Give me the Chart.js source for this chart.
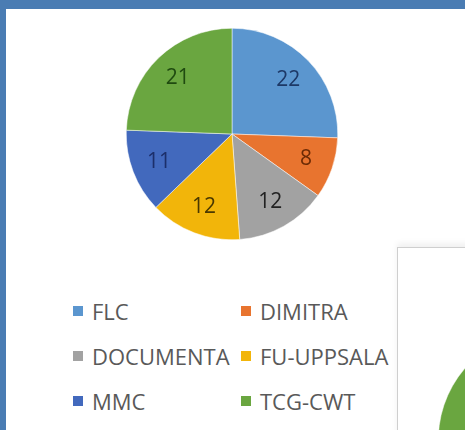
<!DOCTYPE html>
<html>
<head>
<meta charset="utf-8">
<script src="https://cdn.jsdelivr.net/npm/chart.js@4.4.1/dist/chart.umd.min.js"></script>
<style>
  html, body { margin: 0; padding: 0; }
  body {
    width: 465px; height: 430px; overflow: hidden;
    background: #4a7cb3; position: relative;
    font-family: "Open Sans", "Liberation Sans", sans-serif;
  }
  #panel { position: absolute; left: 6px; top: 9px; right: 0; bottom: 0; background: #fff; overflow: hidden; }
  #pieBox { position: absolute; left: 120px; top: 19px; width: 212px; height: 212px; }
  #legend {
    position: absolute; left: 67px; top: 279px;
    display: grid; grid-template-columns: 168px auto; grid-auto-rows: 45px;
    color: #595959; font-size: 22px;
  }
  #legend .item { display: flex; align-items: center; white-space: nowrap; }
  #legend .box { width: 10px; height: 10px; margin-right: 9px; flex: none; }
  #otherBox {
    position: absolute; left: 391px; top: 238px; width: 120px; height: 240px;
    border: 1px solid #cfcfcf; background: #fff;
    box-shadow: 0 -4px 6px rgba(0,0,0,0.06);
  }
  #otherPie { position: absolute; left: 40px; top: 82px; width: 220px; height: 220px; }
</style>
</head>
<body>
<div id="panel">
  <div id="pieBox"><canvas id="chart"></canvas></div>
  <div id="legend"></div>
  <div id="otherBox"><div id="otherPie"><canvas id="chart2"></canvas></div></div>
</div>
<script>
const labels = ["FLC", "DIMITRA", "DOCUMENTA", "FU-UPPSALA", "MMC", "TCG-CWT"];
const values = [22, 8, 12, 12, 11, 21];
const colors = ["#5b96cf", "#e8742f", "#a2a2a2", "#f2b50a", "#4269bd", "#6aa640"];
const labelColors = ["#1d3866", "#6b2a05", "#222222", "#4a3800", "#1c2f6a", "#1f4a10"];

// numbers drawn inside each slice, a bit past half the radius
const sliceLabels = {
    id: 'sliceLabels',
    afterDatasetsDraw(chart) {
        const ctx = chart.ctx;
        const meta = chart.getDatasetMeta(0);
        ctx.save();
        ctx.font = '21px "Open Sans", sans-serif';
        ctx.textAlign = 'center';
        ctx.textBaseline = 'middle';
        meta.data.forEach((arc, i) => {
            const p = arc.getProps(['x', 'y', 'startAngle', 'endAngle', 'outerRadius'], true);
            const mid = (p.startAngle + p.endAngle) / 2;
            const r = p.outerRadius * 0.74;
            ctx.fillStyle = labelColors[i];
            ctx.fillText(values[i], p.x + Math.cos(mid) * r, p.y + Math.sin(mid) * r);
        });
        ctx.restore();
    }
};

const pieOptions = {
    responsive: true,
    maintainAspectRatio: false,
    animation: false,
    layout: { padding: 0 },
    plugins: {
        legend: { display: false },
        tooltip: { enabled: false }
    }
};

const chart = new Chart(document.querySelector('#chart'), {
    type: 'pie',
    data: {
        labels: labels,
        datasets: [{
            data: values,
            backgroundColor: colors,
            borderColor: "#ffffff",
            borderWidth: 0.5
        }]
    },
    options: pieOptions,
    plugins: [sliceLabels]
});

// second chart, mostly hidden behind the panel edge
new Chart(document.querySelector('#chart2'), {
    type: 'pie',
    data: {
        labels: labels,
        datasets: [{
            data: values,
            backgroundColor: colors,
            borderColor: "#ffffff",
            borderWidth: 0.5
        }]
    },
    options: pieOptions
});

// legend in two columns, built from the chart's own legend items
const legendEl = document.querySelector('#legend');
const items = Chart.overrides.pie.plugins.legend.labels.generateLabels(chart);
items.forEach(it => {
    const div = document.createElement('div');
    div.className = 'item';
    const box = document.createElement('span');
    box.className = 'box';
    box.style.background = it.fillStyle;
    div.appendChild(box);
    div.appendChild(document.createTextNode(it.text));
    legendEl.appendChild(div);
});
</script>
</body>
</html>
